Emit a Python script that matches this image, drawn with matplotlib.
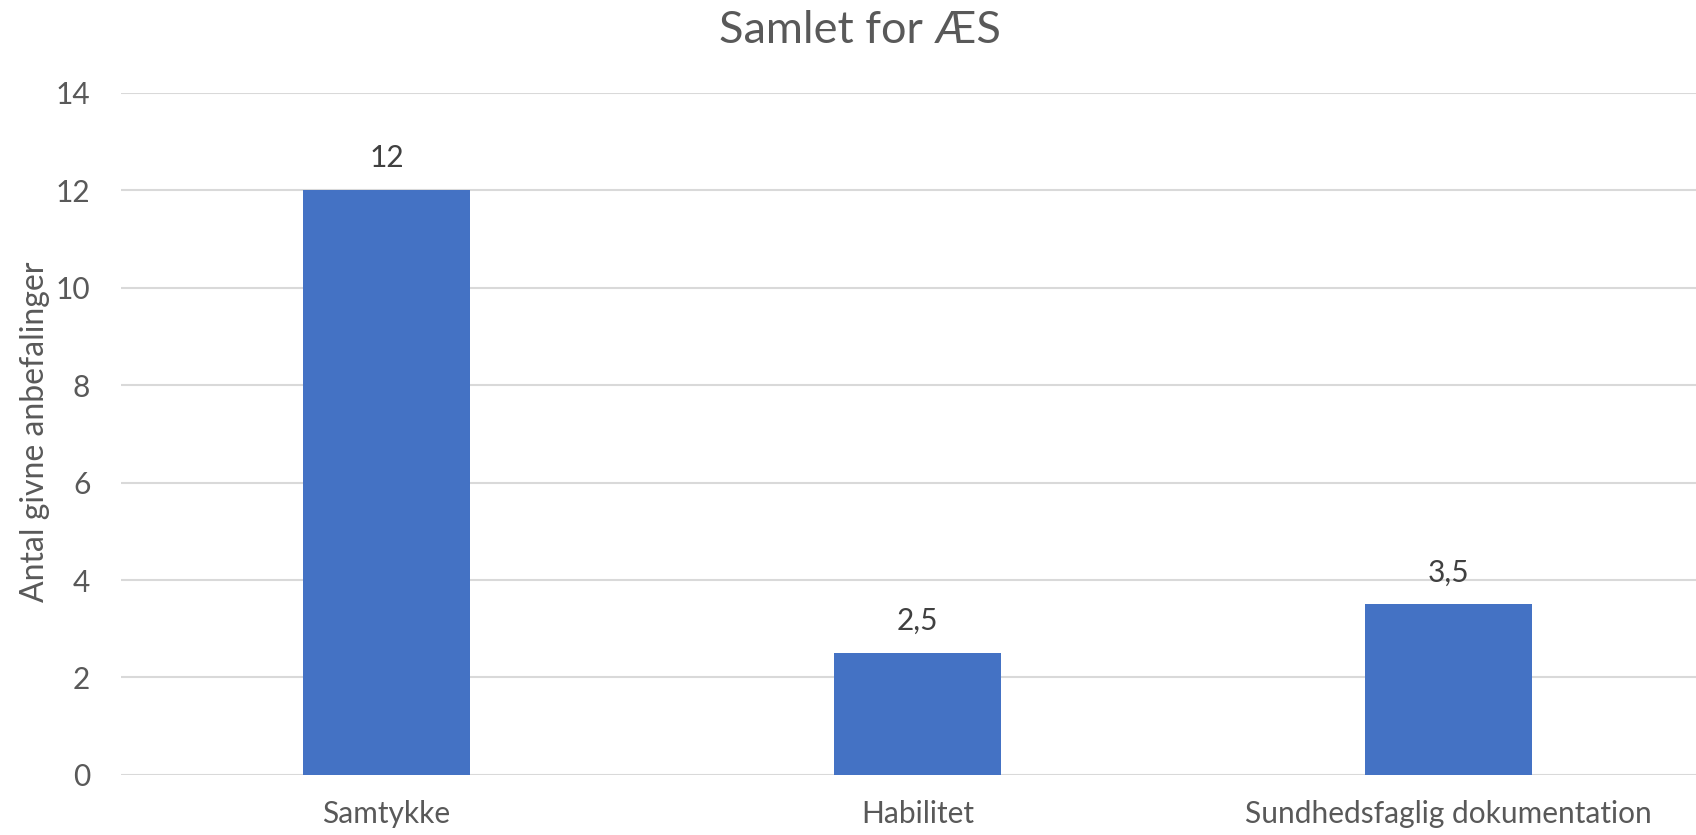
import matplotlib
matplotlib.use('Agg')
import matplotlib.pyplot as plt

plt.rcParams['font.family'] = ['Lato', 'DejaVu Sans']

categories = ['Samtykke', 'Habilitet', 'Sundhedsfaglig dokumentation']
values = [12, 2.5, 3.5]
value_labels = ['12', '2,5', '3,5']
yticks = [0, 2, 4, 6, 8, 10, 12, 14]

text_col = '#595959'
bar_col = '#4472C4'
grid_col = '#D9D9D9'

fig = plt.figure(figsize=(16.96, 8.35), dpi=100)
# axes runs past the right edge of the canvas, gridlines get clipped there
ax = fig.add_axes([0.0713, 0.0719, 0.9393, 0.8171])

x = list(range(len(categories)))
bars = ax.bar(x, values, width=0.314, color=bar_col, zorder=3)

for b, lab in zip(bars, value_labels):
    ax.annotate(lab, (b.get_x() + b.get_width() / 2, b.get_height()),
                xytext=(0, 13), textcoords='offset points',
                ha='center', va='bottom', fontsize=21.5, color='#404040')

ax.set_xlim(-0.5, 2.5)
ax.set_ylim(0, 14)
ax.set_yticks(yticks)
ax.set_yticklabels([str(t) for t in yticks])
ax.set_xticks(x)
ax.set_xticklabels(categories)
ax.tick_params(axis='both', length=0, labelsize=21.5, colors=text_col)
ax.tick_params(axis='y', pad=22)
ax.tick_params(axis='x', pad=18)

ax.grid(axis='y', color=grid_col, linewidth=1.5, zorder=0)
ax.set_axisbelow(True)
for s in ax.spines.values():
    s.set_visible(False)

fig.text(35 / 1696, 0.4826, 'Antal givne anbefalinger', rotation=90,
         ha='center', va='center', fontsize=23, color=text_col)
fig.text(0.507, 0.964, 'Samlet for ÆS', ha='center', va='center',
         fontsize=32.5, color=text_col)

fig.savefig('out.png', dpi=100)
